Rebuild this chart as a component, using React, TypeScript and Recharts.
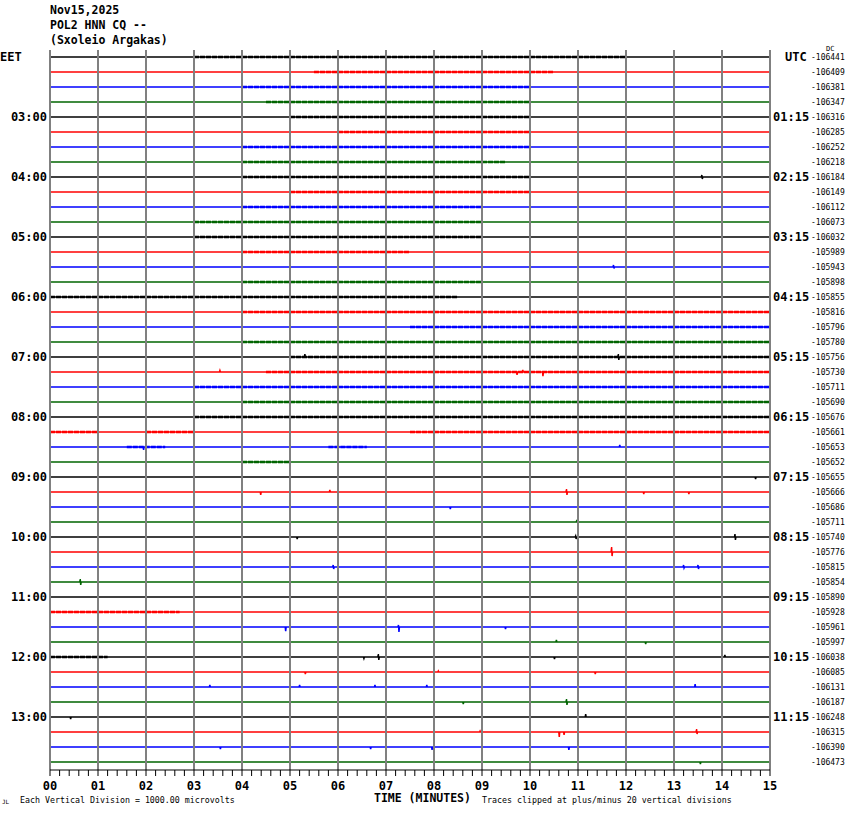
import { LineChart, Line, XAxis, YAxis, ReferenceLine } from 'recharts';

// helicorder rows, 15 minutes each, colours cycle per row
const traceColors = ['#000000', '#ff0000', '#0000ff', '#006400'];
const minuteMarks = [0, 1, 2, 3, 4, 5, 6, 7, 8, 9, 10, 11, 12, 13, 14, 15];
const labelRows = [0, 4, 8, 12, 16, 20, 24, 28, 32, 36, 40, 44];
const leftLabels = ['EET', '03:00', '04:00', '05:00', '06:00', '07:00', '08:00', '09:00', '10:00', '11:00', '12:00', '13:00'];
const rightLabels = ['UTC', '01:15', '02:15', '03:15', '04:15', '05:15', '06:15', '07:15', '08:15', '09:15', '10:15', '11:15'];
const dcValues = [
  -106441, -106409, -106381, -106347, -106316, -106285, -106252, -106218,
  -106184, -106149, -106112, -106073, -106032, -105989, -105943, -105898,
  -105855, -105816, -105796, -105780, -105756, -105730, -105711, -105690,
  -105676, -105661, -105653, -105652, -105655, -105666, -105686, -105711,
  -105740, -105776, -105815, -105854, -105890, -105928, -105961, -105997,
  -106038, -106085, -106131, -106187, -106248, -106315, -106390, -106473,
];

// [row, minute, up, down] in vertical divisions
const spikes: [number, number, number, number][] = [
  [8, 13.58, 0.13, 0.13],
  [14, 11.74, 0.13, 0.1],
  [20, 5.31, 0.2, 0],
  [20, 11.84, 0.2, 0.2],
  [21, 3.54, 0.1, 0],
  [21, 9.72, 0, 0.2],
  [21, 9.85, 0.13, 0],
  [21, 10.26, 0, 0.27],
  [26, 1.94, 0, 0.2],
  [26, 11.87, 0.13, 0],
  [28, 14.69, 0, 0.13],
  [29, 4.38, 0, 0.2],
  [29, 5.83, 0.13, 0],
  [29, 10.76, 0.2, 0.2],
  [29, 12.36, 0, 0.13],
  [29, 13.3, 0, 0.13],
  [30, 8.33, 0, 0.13],
  [31, 10.97, 0.07, 0],
  [32, 5.14, 0, 0.13],
  [32, 10.95, 0.07, 0.13],
  [32, 14.27, 0.2, 0.2],
  [33, 11.7, 0.33, 0.27],
  [34, 5.9, 0.13, 0.13],
  [34, 13.2, 0.13, 0.07],
  [34, 13.5, 0.13, 0.13],
  [35, 0.63, 0.2, 0.2],
  [38, 4.9, 0, 0.27],
  [38, 7.26, 0.13, 0.33],
  [38, 9.48, 0, 0.13],
  [39, 10.55, 0.13, 0],
  [39, 12.4, 0, 0.13],
  [40, 6.53, 0, 0.1],
  [40, 6.84, 0.2, 0.2],
  [40, 10.5, 0, 0.13],
  [40, 14.06, 0.13, 0],
  [41, 5.31, 0, 0.13],
  [41, 8.09, 0.07, 0],
  [41, 11.35, 0, 0.13],
  [42, 3.33, 0.13, 0],
  [42, 5.2, 0.13, 0],
  [42, 6.77, 0.13, 0],
  [42, 7.85, 0.13, 0],
  [42, 13.44, 0.2, 0],
  [43, 8.6, 0, 0.13],
  [43, 10.76, 0.2, 0.2],
  [44, 0.42, 0, 0.13],
  [44, 11.16, 0.2, 0],
  [45, 8.96, 0.07, 0],
  [45, 10.6, 0, 0.33],
  [45, 10.7, 0, 0.2],
  [45, 13.47, 0.2, 0.13],
  [46, 3.54, 0, 0.13],
  [46, 6.67, 0, 0.13],
  [46, 7.95, 0, 0.2],
  [46, 10.8, 0, 0.2],
  [47, 13.54, 0, 0.13],
];

// [row, from minute, to minute] where the trace is dense with noise
const noisyBands: [number, number, number][] = [
  [0, 3, 12], [1, 5.5, 10.5], [2, 4, 10], [3, 4.5, 10],
  [4, 5, 10], [5, 6, 10], [6, 4, 10], [7, 4, 9.5],
  [8, 4, 10], [9, 5, 10], [10, 4, 9], [11, 3, 9],
  [12, 3, 9], [13, 4, 7.5], [15, 4, 9], [16, 0, 8.5],
  [17, 4, 15], [18, 7.5, 15], [19, 4, 15], [20, 5, 15],
  [21, 4.5, 15], [22, 3, 15], [23, 4, 15], [24, 3, 15],
  [25, 0, 1], [25, 2, 3], [25, 7.5, 15], [26, 1.6, 2.4],
  [26, 5.8, 6.6], [27, 4, 5], [37, 0, 2.7], [40, 0, 1.2],
];

const minorTicks = Array.from({ length: 76 }, (_, k) => k / 5);
const yDomain: [number, number] = [-7 / 15, 713 / 15];

const traces = dcValues.map((_, row) => {
  const pts: { x: number; y: number }[] = [{ x: 0, y: row }];
  spikes
    .filter((s) => s[0] === row)
    .sort((a, b) => a[1] - b[1])
    .forEach(([, t, up, down]) => {
      pts.push({ x: t - 0.01, y: row }, { x: t, y: row - up }, { x: t + 0.01, y: row + down }, { x: t + 0.02, y: row });
    });
  pts.push({ x: 15, y: row });
  return pts;
});

const mono = '"DejaVu Sans Mono", monospace';

const LeftTick = ({ x, y, payload }: any) => {
  const label = leftLabels[labelRows.indexOf(payload.value)];
  const first = payload.value === 0;
  return (
    <text x={first ? 0 : x} y={y} dy={4} textAnchor={first ? 'start' : 'end'} fontFamily={mono} fontWeight="bold" fontSize={12} fill="#000">
      {label}
    </text>
  );
};

const RightTick = ({ x, y, payload }: any) => {
  const label = rightLabels[labelRows.indexOf(payload.value)];
  const first = payload.value === 0;
  return (
    <text x={first ? x + 12 : x} y={y} dy={4} textAnchor="start" fontFamily={mono} fontWeight="bold" fontSize={12} fill="#000">
      {label}
    </text>
  );
};

const textStyle = (left: number, top: number, size: number, bold = false): React.CSSProperties => ({
  position: 'absolute',
  left,
  top,
  fontFamily: mono,
  fontSize: size,
  fontWeight: bold ? 'bold' : 'normal',
  lineHeight: 1,
  whiteSpace: 'pre',
  color: '#000',
});

export default function App() {
  return (
    <div style={{ position: 'relative', width: 850, height: 814, background: '#fff' }}>
      <style>{'body{margin:0}'}</style>
      <LineChart width={850} height={814} margin={{ top: 50, right: 0, bottom: 14, left: 0 }}>
        <XAxis
          xAxisId="bottom"
          dataKey="x"
          type="number"
          domain={[0, 15]}
          ticks={minorTicks}
          interval={0}
          tickFormatter={(v: number) => (Number.isInteger(v) ? String(v).padStart(2, '0') : '')}
          tickSize={6}
          tickMargin={5}
          height={30}
          stroke="#000"
          tick={{ fill: '#000', fontFamily: mono, fontWeight: 'bold', fontSize: 12 }}
        />
        <XAxis xAxisId="top" orientation="top" type="number" domain={[0, 15]} height={0} tick={false} tickLine={false} stroke="#000" />
        <YAxis
          yAxisId="left"
          type="number"
          domain={yDomain}
          reversed
          allowDataOverflow
          width={50}
          ticks={labelRows}
          interval={0}
          axisLine={false}
          tickLine={false}
          tickSize={0}
          tickMargin={3}
          tick={<LeftTick />}
        />
        <YAxis
          yAxisId="b_dc"
          orientation="right"
          type="number"
          domain={yDomain}
          reversed
          allowDataOverflow
          width={40}
          ticks={dcValues.map((_, i) => i)}
          interval={0}
          axisLine={false}
          tickLine={false}
          tickSize={0}
          tickMargin={1}
          tickFormatter={(v: number) => String(dcValues[v])}
          tick={{ fill: '#000', fontFamily: mono, fontSize: 8 }}
        />
        <YAxis
          yAxisId="a_time"
          orientation="right"
          type="number"
          domain={yDomain}
          reversed
          allowDataOverflow
          width={40}
          ticks={labelRows}
          interval={0}
          axisLine={false}
          tickLine={false}
          tickSize={0}
          tickMargin={3}
          tick={<RightTick />}
        />
        {traces.map((pts, row) => (
          <Line
            key={`t${row}`}
            xAxisId="bottom"
            yAxisId="left"
            data={pts}
            dataKey="y"
            type="linear"
            stroke={traceColors[row % 4]}
            strokeWidth={1.5}
            dot={false}
            activeDot={false}
            isAnimationActive={false}
          />
        ))}
        {noisyBands.map(([row, from, to], k) => (
          <Line
            key={`n${k}`}
            xAxisId="bottom"
            yAxisId="left"
            data={[{ x: from, y: row }, { x: to, y: row }]}
            dataKey="y"
            type="linear"
            stroke={traceColors[row % 4]}
            strokeWidth={2.5}
            strokeDasharray="5 1"
            dot={false}
            activeDot={false}
            isAnimationActive={false}
          />
        ))}
        {minuteMarks.map((m) => (
          <ReferenceLine key={`g${m}`} xAxisId="bottom" yAxisId="left" x={m} stroke="#808080" strokeWidth={2} />
        ))}
      </LineChart>
      <div style={textStyle(50, 5, 11.5, true)}>Nov15,2025</div>
      <div style={textStyle(50, 20, 11.5, true)}>POL2 HNN CQ --</div>
      <div style={textStyle(50, 35, 11.5, true)}>(Sxoleio Argakas)</div>
      <div style={textStyle(826, 46, 7)}>DC</div>
      <div style={textStyle(2, 799, 6)}>JL</div>
      <div style={textStyle(20, 796, 8.3)}>Each Vertical Division = 1000.00 microvolts</div>
      <div style={textStyle(374, 793, 11.5, true)}>TIME (MINUTES)</div>
      <div style={textStyle(482, 796, 8.3)}>Traces clipped at plus/minus 20 vertical divisions</div>
    </div>
  );
}
